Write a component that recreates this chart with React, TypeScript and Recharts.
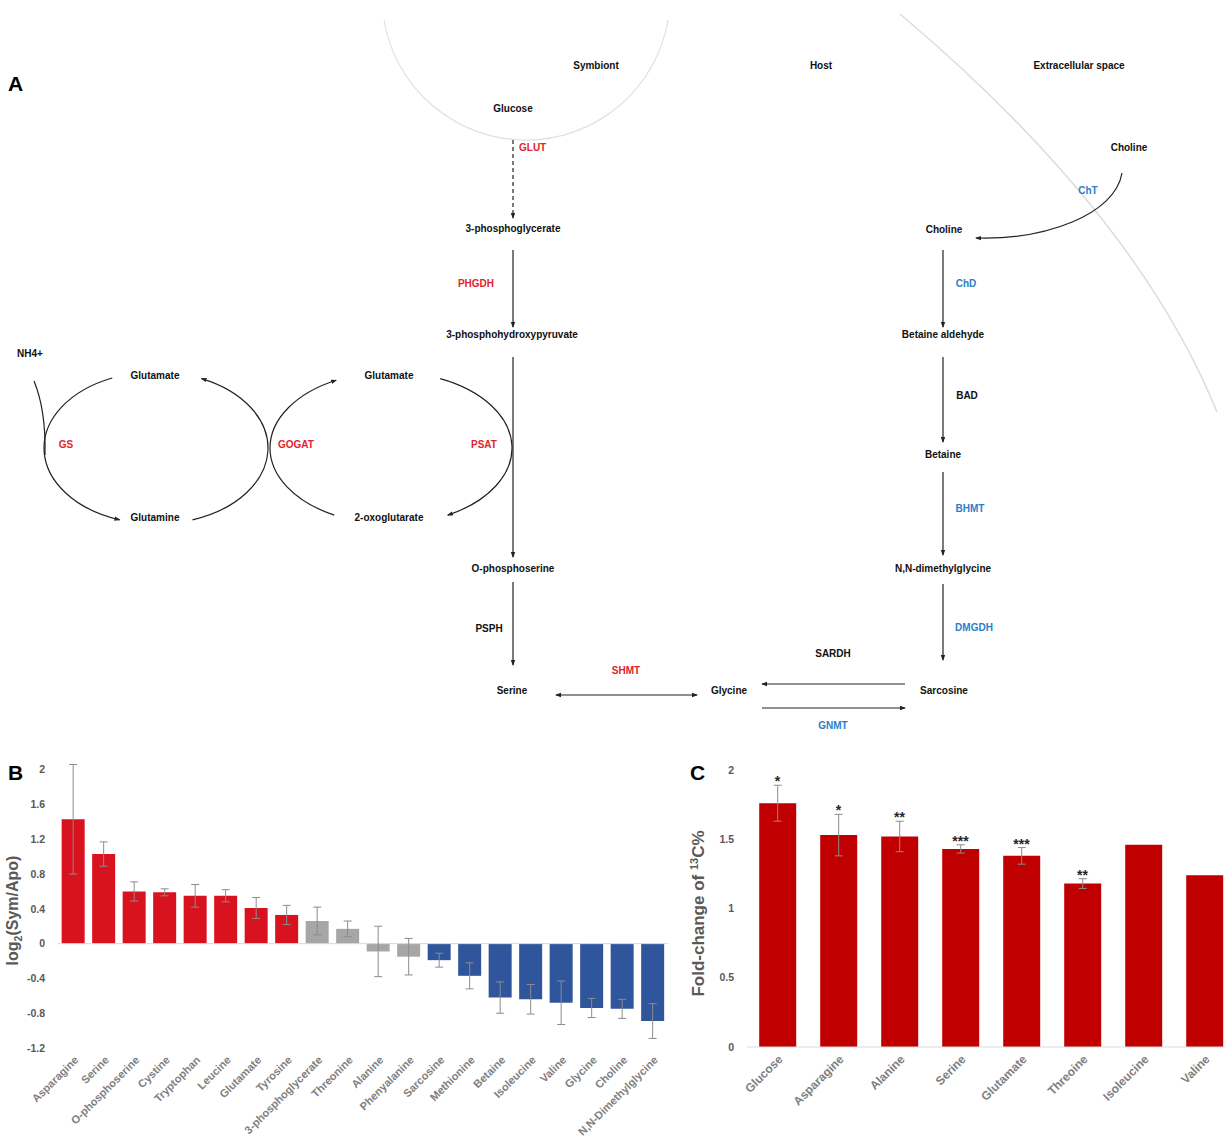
import React from 'react';
import {
  BarChart,
  ComposedChart,
  Bar,
  Scatter,
  XAxis,
  YAxis,
  Cell,
  ErrorBar,
  ReferenceLine,
  Label,
} from 'recharts';

// ---- Panel B data: log2(Sym/Apo)
const bCategories = [
  'Asparagine', 'Serine', 'O-phosphoserine', 'Cystine', 'Tryptophan', 'Leucine', 'Glutamate',
  'Tyrosine', '3-phosphoglycerate', 'Threonine', 'Alanine', 'Phenyalanine', 'Sarcosine',
  'Methionine', 'Betaine', 'Isoleucine', 'Valine', 'Glycine', 'Choline', 'N,N-Dimethylglycine',
];
const bValues = [1.43, 1.03, 0.6, 0.59, 0.55, 0.55, 0.41, 0.33, 0.26, 0.17, -0.09, -0.15, -0.19, -0.37, -0.62, -0.64, -0.68, -0.74, -0.75, -0.89];
const bErrors = [0.63, 0.14, 0.11, 0.04, 0.13, 0.07, 0.12, 0.11, 0.16, 0.09, 0.29, 0.21, 0.08, 0.15, 0.18, 0.17, 0.25, 0.11, 0.11, 0.2];
const bGroups = ['up', 'up', 'up', 'up', 'up', 'up', 'up', 'up', 'ns', 'ns', 'ns', 'ns', 'down', 'down', 'down', 'down', 'down', 'down', 'down', 'down'];
const bTicks = [2, 1.6, 1.2, 0.8, 0.4, 0, -0.4, -0.8, -1.2];

// ---- Panel C data: fold-change of 13C%
const cCategories = ['Glucose', 'Asparagine', 'Alanine', 'Serine', 'Glutamate', 'Threoine', 'Isoleucine', 'Valine'];
const cValues = [1.76, 1.53, 1.52, 1.43, 1.38, 1.18, 1.46, 1.24];
const cErrors = [0.13, 0.15, 0.11, 0.03, 0.06, 0.035, null, null];
const cStars = ['*', '*', '**', '***', '***', '**', '', ''];
const cTicks = [0, 0.5, 1, 1.5, 2];

const groupColor: Record<string, string> = { up: '#d9121f', ns: '#a6a6a6', down: '#2f569c' };
const FONT = '"Liberation Sans", Arial, sans-serif';
const RED = '#e3222b';
const BLUE = '#2a80c8';

const bData = bCategories.map((name, i) => ({ name, value: bValues[i], err: bErrors[i], group: bGroups[i] }));
const cData = cCategories.map((name, i) => ({
  name,
  value: cValues[i],
  err: cErrors[i],
  stars: cStars[i],
  starY: cStars[i] ? cValues[i] + (cErrors[i] ?? 0) : null,
}));

const SlantTick = ({ x, y, payload, size }: any) => (
  <g transform={`translate(${x + 3},${y + 8})`}>
    <text textAnchor="end" transform="rotate(-45)" dy="0.35em" fontSize={size} fontWeight="bold" fill="#808080" fontFamily={FONT}>
      {payload.value}
    </text>
  </g>
);

const StarShape = (props: any) => {
  const { cx, cy, payload } = props;
  if (cx == null || cy == null || !payload?.stars) return <g />;
  return (
    <text x={cx} y={cy + 1} textAnchor="middle" fontSize={14} fontWeight="bold" fill="#262626" fontFamily={FONT}>
      {payload.stars}
    </text>
  );
};

// ---- Panel A: pathway diagram
const Node = ({ x, y, c = '#111', children }: any) => (
  <text x={x} y={y} textAnchor="middle" dominantBaseline="central" fontSize={10} fontWeight="bold" fill={c} fontFamily={FONT}>
    {children}
  </text>
);

const ell = (cx: number, cy: number, rx: number, ry: number, a1: number, a2: number, sweep: number) => {
  const p = (a: number) => [cx + rx * Math.cos((a * Math.PI) / 180), cy + ry * Math.sin((a * Math.PI) / 180)];
  const [x1, y1] = p(a1);
  const [x2, y2] = p(a2);
  return `M${x1},${y1} A${rx},${ry} 0 0 ${sweep} ${x2},${y2}`;
};

const Pathway = () => {
  const line = { stroke: '#222', strokeWidth: 1.2, fill: 'none', markerEnd: 'url(#ah)' };
  return (
    <svg width={1225} height={740} style={{ position: 'absolute', left: 0, top: 0 }}>
      <defs>
        <marker id="ah" markerWidth="6" markerHeight="6" refX="5" refY="3" orient="auto" markerUnits="userSpaceOnUse">
          <path d="M0,0.8 L6,3 L0,5.2 z" fill="#222" />
        </marker>
        <marker id="as" markerWidth="6" markerHeight="6" refX="1" refY="3" orient="auto" markerUnits="userSpaceOnUse">
          <path d="M6,0.8 L0,3 L6,5.2 z" fill="#222" />
        </marker>
      </defs>
      <text x={8} y={91} fontSize={21} fontWeight="bold" fontFamily={FONT} fill="#000">A</text>

      {/* compartments */}
      <path d="M384,20 A144,144 0 0 0 668,20" stroke="#e0e0e0" fill="none" strokeWidth={1.2} />
      <path d="M900,14 Q1136,213 1217,412" stroke="#dcdcdc" fill="none" strokeWidth={1.5} />
      <Node x={596} y={65}>Symbiont</Node>
      <Node x={821} y={65}>Host</Node>
      <Node x={1079} y={65}>Extracellular space</Node>

      {/* serine branch */}
      <Node x={513} y={108}>Glucose</Node>
      <path d="M513,140 L513,218" {...line} strokeDasharray="4,3" />
      <text x={519} y={147} dominantBaseline="central" fontSize={10} fontWeight="bold" fill={RED} fontFamily={FONT}>GLUT</text>
      <Node x={513} y={228}>3-phosphoglycerate</Node>
      <path d="M513,250 L513,327" {...line} />
      <Node x={476} y={283} c={RED}>PHGDH</Node>
      <Node x={512} y={334}>3-phosphohydroxypyruvate</Node>
      <path d="M513,357 L513,557" {...line} />
      <Node x={484} y={444} c={RED}>PSAT</Node>
      <Node x={513} y={568}>O-phosphoserine</Node>
      <path d="M513,582 L513,665" {...line} />
      <Node x={489} y={628}>PSPH</Node>
      <Node x={512} y={690}>Serine</Node>
      <path d="M556,695 L697,695" {...line} markerStart="url(#as)" />
      <Node x={626} y={670} c={RED}>SHMT</Node>
      <Node x={729} y={690}>Glycine</Node>
      <path d="M905,684 L762,684" {...line} />
      <Node x={833} y={653}>SARDH</Node>
      <path d="M762,708 L905,708" {...line} />
      <Node x={833} y={725} c={BLUE}>GNMT</Node>
      <Node x={944} y={690}>Sarcosine</Node>

      {/* choline branch */}
      <Node x={1129} y={147}>Choline</Node>
      <path d="M1122,173 C1115,215 1045,240 976,238" {...line} />
      <Node x={1088} y={190} c={BLUE}>ChT</Node>
      <Node x={944} y={229}>Choline</Node>
      <path d="M943,250 L943,327" {...line} />
      <Node x={966} y={283} c={BLUE}>ChD</Node>
      <Node x={943} y={334}>Betaine aldehyde</Node>
      <path d="M943,357 L943,442" {...line} />
      <Node x={967} y={395}>BAD</Node>
      <Node x={943} y={454}>Betaine</Node>
      <path d="M943,472 L943,555" {...line} />
      <Node x={970} y={508} c={BLUE}>BHMT</Node>
      <Node x={943} y={568}>N,N-dimethylglycine</Node>
      <path d="M943,584 L943,660" {...line} />
      <Node x={974} y={627} c={BLUE}>DMGDH</Node>

      {/* nitrogen cycles */}
      <Node x={30} y={353}>NH4+</Node>
      <path d="M34,381 Q46,410 45,455" stroke="#222" strokeWidth={1.2} fill="none" />
      <Node x={155} y={375}>Glutamate</Node>
      <Node x={155} y={517}>Glutamine</Node>
      <Node x={389} y={375}>Glutamate</Node>
      <Node x={389} y={517}>2-oxoglutarate</Node>
      <Node x={66} y={444} c={RED}>GS</Node>
      <Node x={296} y={444} c={RED}>GOGAT</Node>
      <path d={ell(156, 448, 112, 76, 247, 109, 0)} {...line} />
      <path d={ell(156, 448, 112, 76, 71, -66, 0)} {...line} />
      <path d={ell(391, 448, 121, 76, 118, 243, 1)} {...line} />
      <path d={ell(391, 448, 121, 76, -66, 62, 1)} {...line} />
    </svg>
  );
};

export default function App() {
  return (
    <div style={{ position: 'absolute', left: 0, top: 0, width: 1225, height: 1141, overflow: 'hidden', background: '#fff', fontFamily: FONT }}>
      <Pathway />

      {/* Panel B */}
      <div style={{ position: 'absolute', left: 0, top: 740, width: 680, height: 400 }}>
        <BarChart width={680} height={400} data={bData} margin={{ top: 21, right: 12, left: 0, bottom: 2 }} barCategoryGap="12%">
          <XAxis dataKey="name" interval={0} axisLine={false} tickLine={false} tickSize={0} height={90} tick={<SlantTick size={11} />} />
          <YAxis
            type="number"
            domain={[-1.2, 2.1]}
            ticks={bTicks}
            allowDataOverflow
            width={58}
            axisLine={false}
            tickLine={false}
            tickMargin={7}
            tick={{ fontSize: 10.5, fontWeight: 'bold', fill: '#595959', fontFamily: FONT }}
          >
            <Label
              content={({ viewBox }: any) => {
                const cx = viewBox.x + 18;
                const cy = viewBox.y + viewBox.height / 2 + 6;
                return (
                  <text transform={`translate(${cx},${cy}) rotate(-90)`} textAnchor="middle" fontSize={16} fontWeight="bold" fill="#595959" fontFamily={FONT}>
                    log<tspan fontSize={10.5} dy={4}>2</tspan>
                    <tspan dy={-4}>(Sym/Apo)</tspan>
                  </text>
                );
              }}
            />
          </YAxis>
          <ReferenceLine y={0} stroke="#d9d9d9" strokeWidth={1} />
          <Bar dataKey="value" isAnimationActive={false}>
            {bData.map((d, i) => (
              <Cell key={`b-${i}`} fill={groupColor[d.group]} />
            ))}
            <ErrorBar dataKey="err" width={4} stroke="#8c8c8c" strokeWidth={1} direction="y" />
          </Bar>
        </BarChart>
        <div style={{ position: 'absolute', left: 8, top: 21, fontSize: 21, fontWeight: 'bold', fontFamily: FONT, color: '#000' }}>B</div>
      </div>

      {/* Panel C */}
      <div style={{ position: 'absolute', left: 680, top: 740, width: 560, height: 400 }}>
        <ComposedChart width={560} height={400} data={cData} margin={{ top: 30, right: 5, left: 0, bottom: 3 }} barCategoryGap="20%">
          <XAxis dataKey="name" interval={0} axisLine={{ stroke: '#d9d9d9' }} tickLine={false} tickSize={0} height={90} tick={<SlantTick size={12} />} />
          <YAxis
            type="number"
            domain={[0, 2]}
            ticks={cTicks}
            allowDataOverflow
            width={67}
            axisLine={false}
            tickLine={false}
            tickMargin={7}
            tick={{ fontSize: 10.5, fontWeight: 'bold', fill: '#595959', fontFamily: FONT }}
          >
            <Label
              content={({ viewBox }: any) => {
                const cx = viewBox.x + 24;
                const cy = viewBox.y + viewBox.height / 2 + 5;
                return (
                  <text transform={`translate(${cx},${cy}) rotate(-90)`} textAnchor="middle" fontSize={17} fontWeight="bold" fill="#595959" fontFamily={FONT}>
                    Fold-change of <tspan fontSize={11} dy={-6}>13</tspan>
                    <tspan dy={6}>C%</tspan>
                  </text>
                );
              }}
            />
          </YAxis>
          <Bar dataKey="value" fill="#c00000" isAnimationActive={false}>
            <ErrorBar dataKey="err" width={4} stroke="#8c8c8c" strokeWidth={1} direction="y" />
          </Bar>
          <Scatter dataKey="starY" shape={<StarShape />} isAnimationActive={false} />
        </ComposedChart>
        <div style={{ position: 'absolute', left: 10, top: 21, fontSize: 21, fontWeight: 'bold', fontFamily: FONT, color: '#000' }}>C</div>
      </div>
    </div>
  );
}
